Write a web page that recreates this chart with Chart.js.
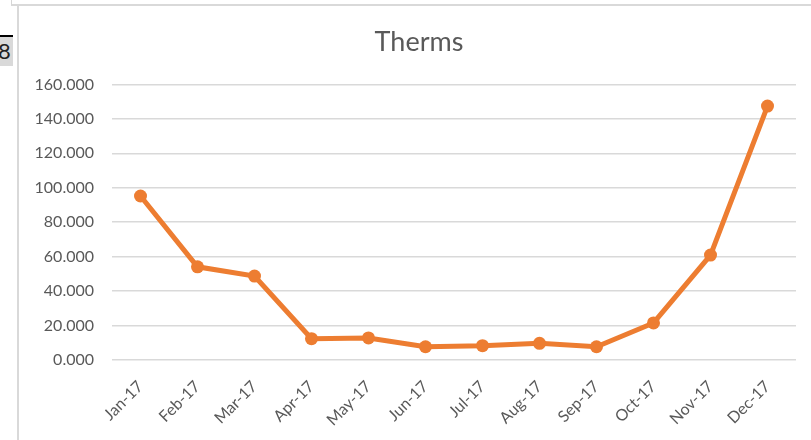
<!DOCTYPE html>
<html>
<head>
<meta charset="utf-8">
<script src="https://cdn.jsdelivr.net/npm/chart.js@4/dist/chart.umd.min.js"></script>
<style>
  html, body { margin: 0; padding: 0; background: #fff; }
  body { width: 811px; height: 440px; position: relative; overflow: hidden; font-family: Lato, "Open Sans", sans-serif; }
  #cellAbove { position: absolute; left: 11px; top: -2px; width: 820px; height: 6px; border-left: 1px solid #d6d6d6; border-bottom: 2px solid #d9d9d9; }
  #frame { position: absolute; left: 17px; top: 5px; width: 800px; height: 440px; border-left: 2px solid #d9d9d9; }
  #cellTag { position: absolute; left: 0; top: 35px; width: 13px; height: 31px; background: #d9d9d9; border-top: 2px solid #000; box-sizing: border-box; font: 22px Lato, sans-serif; color: #222; line-height: 28px; text-indent: -2px; overflow: hidden; }
  #wrap { position: absolute; left: 18px; top: 5px; width: 793px; height: 435px; }
</style>
</head>
<body>
<div id="cellAbove"></div>
<div id="frame"></div>
<div id="cellTag">8</div>
<div id="wrap"><canvas id="c" width="793" height="435"></canvas></div>
<script>
// Monthly gas usage in therms, 2017
const months = ["Jan-17", "Feb-17", "Mar-17", "Apr-17", "May-17", "Jun-17",
                "Jul-17", "Aug-17", "Sep-17", "Oct-17", "Nov-17", "Dec-17"];
const therms = [95.2, 54.1, 48.7, 12.4, 12.8, 7.7, 8.3, 9.7, 7.7, 21.5, 60.9, 147.4];
const yMin = 0;
const yMax = 160;
const yStep = 20;

const textGrey = "#595959";
const gridGrey = "#d9d9d9";
const orange = "#ED7D31";

// Centre the title over the plot area rather than the whole canvas
const titleShift = {
  id: "titleShift",
  afterLayout(chart) {
    if (chart.titleBlock) chart.titleBlock.left += 24;
  }
};

new Chart(document.getElementById("c"), {
  type: "line",
  data: {
    labels: months,
    datasets: [{
      label: "Therms",
      data: therms,
      borderColor: orange,
      backgroundColor: orange,
      borderWidth: 5,
      tension: 0,
      pointRadius: 6.5,
      pointHoverRadius: 6.5,
      pointBackgroundColor: orange,
      pointBorderColor: orange,
      pointBorderWidth: 0,
      fill: false
    }]
  },
  plugins: [titleShift],
  options: {
    responsive: false,
    animation: false,
    devicePixelRatio: 1,
    layout: { padding: { left: 0, right: 15, top: 0, bottom: 0 } },
    plugins: {
      legend: { display: false },
      tooltip: { enabled: false },
      title: {
        display: true,
        text: "Therms",
        color: textGrey,
        font: { family: "Lato", size: 27, weight: "normal", lineHeight: 1.2 },
        padding: { top: 21, bottom: 26 }
      }
    },
    scales: {
      x: {
        offset: true,
        grid: { display: false, drawTicks: false },
        border: { display: false },
        ticks: {
          color: textGrey,
          font: { family: "Lato", size: 16 },
          maxRotation: 45,
          minRotation: 45,
          autoSkip: false,
          padding: 17
        },
        afterFit(scale) { scale.height = 80; }
      },
      y: {
        min: yMin,
        max: yMax,
        grid: { color: gridGrey, lineWidth: 1.5, drawTicks: false },
        border: { display: false },
        ticks: {
          stepSize: yStep,
          color: textGrey,
          font: { family: "Lato", size: 16 },
          padding: 18,
          callback: v => Number(v).toFixed(3)
        },
        afterFit(scale) { scale.width = 94; }
      }
    }
  }
});
</script>
</body>
</html>
